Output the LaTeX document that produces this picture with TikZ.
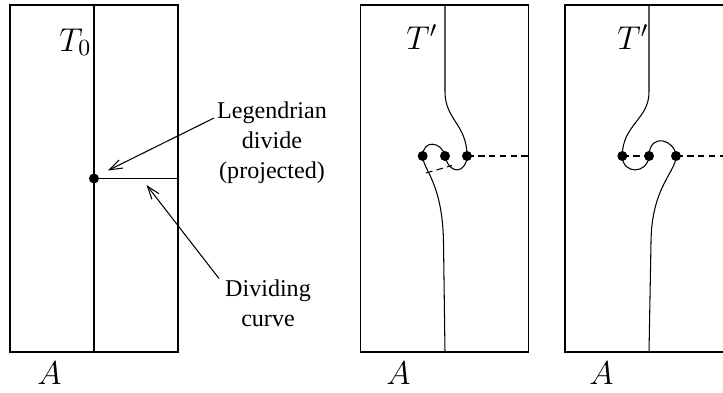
\RequirePackage{fix-cm}
\documentclass[tikz,border=0pt]{standalone}
\usepackage{fontspec}
\setmainfont{Liberation Serif}
\usetikzlibrary{arrows.meta, positioning}
\newcommand{\biglabel}[1]{\scalebox{1.37}{$#1$}}

\begin{document}
\begin{tikzpicture}[
        font=\fontsize{13.7}{17}\selectfont,
        panel/.style={rectangle, draw, line width=0.6pt, minimum width=3.36cm, minimum height=6.94cm, inner sep=0pt},
        strand/.style={line width=0.6pt},
        dividing/.style={line width=0.9pt},
        projected/.style={dash pattern=on 3.8pt off 2.4pt, line width=0.6pt},
        vertex/.style={circle, fill=black, inner sep=0pt, minimum size=2mm},
        pointer/.style={-{Straight Barb[length=2.6mm, width=1.8mm]}, line width=0.6pt},
        caption/.style={align=center, inner sep=0pt},
        tag/.style={anchor=base west, inner sep=0pt}
    ]
        \useasboundingbox (0,0) rectangle (14.46,7.84);
        \clip (0,0) rectangle (14.46,7.84);
        \node[panel] (box1) at (1.88,4.27) {};
        \node[panel] (box2) at (8.89,4.27) {};
        \node[panel] (box3) at (12.98,4.27) {};
        \node[tag] (t0) at (1.18,6.82) {\biglabel{T_0}};
        \node[tag] (t2) at (8.12,6.86) {\biglabel{T'}};
        \node[tag] (t3) at (12.34,6.86) {\biglabel{T'}};
        \node[tag] (a1) at (0.74,0.16) {\biglabel{A}};
        \node[tag] (a2) at (7.72,0.16) {\biglabel{A}};
        \node[tag] (a3) at (11.78,0.16) {\biglabel{A}};
        \draw[strand] (box1.north) -- (box1.south);
        \node[vertex] (p0) at (box1.center) {};
        \draw[dividing] (p0.center) -- (box1.east);
        \node[caption] (legend) at (5.44,4.98) {Legendrian\\divide\\(projected)};
        \node[caption] (curve) at (5.36,1.78) {Dividing\\curve};
        \coordinate (legendtail) at (4.28,5.48);
        \coordinate (legendtip) at (2.16,4.43);
        \coordinate (curvetail) at (4.38,2.27);
        \coordinate (curvetip) at (2.93,4.14);
        \draw[pointer] (legendtail) -- (legendtip);
        \draw[pointer] (curvetail) -- (curvetip);
        \node[vertex] (l2) at (8.454,4.72) {};
        \node[vertex] (m2) at (8.90,4.72) {};
        \node[vertex] (r2) at (9.34,4.72) {};
        \draw[strand] (box2.north -| m2) -- (8.90,6.00) .. controls (8.90,5.45) and (9.34,5.35) .. (r2.center)
            .. controls (9.34,4.40) and (9.00,4.30) .. (m2.center)
            .. controls (8.83,5.02) and (8.454,5.05) .. (l2.center)
            .. controls (8.454,4.45) and (8.85,4.20) .. (8.87,3.00) -- (box2.south -| m2);
        \coordinate (gap2a) at (8.52,4.38);
        \coordinate (gap2b) at (9.04,4.53);
        \draw[projected] (gap2a) -- (gap2b);
        \draw[projected] (r2.center) -- (box2.east |- r2);
        \node[vertex] (l3) at (12.446,4.72) {};
        \node[vertex] (m3) at (12.98,4.72) {};
        \node[vertex] (r3) at (13.52,4.72) {};
        \draw[strand] (box3.north -| m3) -- (12.98,6.00) .. controls (12.98,5.45) and (12.446,5.35) .. (l3.center)
            .. controls (12.446,4.35) and (12.95,4.35) .. (m3.center)
            .. controls (12.99,5.20) and (13.50,5.05) .. (r3.center)
            .. controls (13.52,4.40) and (13.03,4.10) .. (13.02,3.00) -- (box3.south -| m3);
        \draw[projected] (l3.center) -- (m3.center);
        \draw[projected] (r3.center) -- (box3.east |- r3);
    \end{tikzpicture}
\end{document}
